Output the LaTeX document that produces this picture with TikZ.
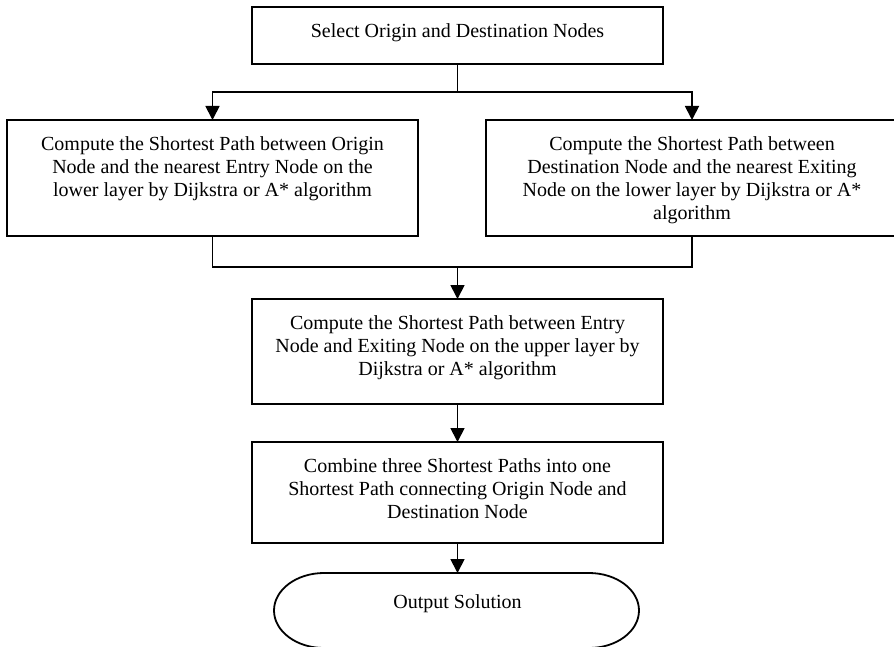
\documentclass[tikz,border=0pt]{standalone}
\usepackage{fontspec}
\setmainfont{Liberation Serif}
\usetikzlibrary{arrows.meta}
\begin{document}
\begin{tikzpicture}[x=1pt,y=-1pt,
  box/.style={draw, line width=1.8pt, rectangle, inner sep=0pt, outer sep=0pt, anchor=north west},
  txt/.style={anchor=north, inner sep=0pt, align=center, font=\fontsize{20}{23.3}\selectfont},
  arr/.style={line width=1.8pt, -{Triangle[length=14pt,width=14pt]}},
  ln/.style={line width=1.8pt}]
\useasboundingbox (0,0) rectangle (894,647);
% boxes
\node[box, minimum width=411pt, minimum height=57pt] (b1) at (252,7) {};
\node[box, minimum width=411pt, minimum height=116pt] (b2) at (7,120) {};
\node[box, minimum width=412pt, minimum height=116pt] (b3) at (486,120) {};
\node[box, minimum width=411pt, minimum height=105pt] (b4) at (252,299) {};
\node[box, minimum width=411pt, minimum height=101pt] (b5) at (252,442) {};
% terminal
\draw[ln] (324,573) -- (589,573) arc[start angle=90, end angle=-90, x radius=50, y radius=-37.5]
  -- (324,648) arc[start angle=-90, end angle=-270, x radius=50, y radius=-37.5] -- cycle;
\coordinate (t6) at (b5.south |- 0,573);
% texts
\node[txt] (x1) at (457.5,23) {Select Origin and Destination Nodes};
\node[txt] (x2) at (212.5,136) {Compute the Shortest Path between Origin\\Node and the nearest Entry Node on the\\lower layer by Dijkstra or A* algorithm};
\node[txt] (x3) at (692,136) {Compute the Shortest Path between\\Destination Node and the nearest Exiting\\Node on the lower layer by Dijkstra or A*\\algorithm};
\node[txt] (x4) at (457.5,315) {Compute the Shortest Path between Entry\\Node and Exiting Node on the upper layer by\\Dijkstra or A* algorithm};
\node[txt] (x5) at (457.5,458) {Combine three Shortest Paths into one\\Shortest Path connecting Origin Node and\\Destination Node};
\node[txt, anchor=center] (x6) at (457.5,604) {Output Solution};
% connectors
\coordinate (j1) at (b1.south |- 0,92);
\coordinate (j2) at (b1.south |- 0,267);
\draw[ln] (b1.south) -- (j1);
\draw[arr] (j1) -| (b2.north);
\draw[arr] (j1) -| (b3.north);
\draw[ln] (b2.south) |- (j2) -| (b3.south);
\draw[arr] (j2) -- (b4.north);
\draw[arr] (b4.south) -- (b5.north);
\draw[arr] (b5.south) -- (t6);
\end{tikzpicture}
\end{document}
